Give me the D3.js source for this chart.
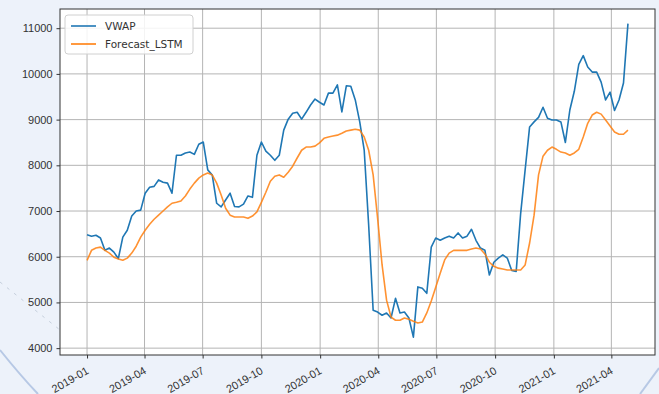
<!DOCTYPE html>
<html>
<head>
<meta charset="utf-8">
<script src="https://cdn.jsdelivr.net/npm/d3@7"></script>
<style>
  body { margin: 0; background: #edf2fa; }
  svg { display: block; font-family: "DejaVu Sans", sans-serif; }
</style>
</head>
<body>
<div id="chart"></div>
<script>
var width = 659, height = 394;
var margin = { top: 9, right: 4, bottom: 39, left: 60 };

// weekly observations, starting 2019-01-01
var startDate = "2019-01-01";
var vwap = [
  6480, 6450, 6470, 6410, 6140, 6190, 6100, 5960, 6430, 6580,
  6890, 7000, 7020, 7390, 7520, 7540, 7680, 7630, 7610, 7390,
  8220, 8220, 8270, 8290, 8240, 8460, 8510, 7900, 7790, 7170,
  7090, 7240, 7390, 7100, 7090, 7150, 7330, 7300, 8220, 8510,
  8310, 8220, 8110, 8220, 8770, 9010, 9140, 9160, 9010, 9160,
  9320, 9450, 9380, 9320, 9580, 9580, 9760, 9170, 9740, 9730,
  9430, 8950, 8330, 6690, 4830, 4790, 4720, 4770, 4660, 5090,
  4770, 4790, 4660, 4240, 5340, 5310, 5200, 6210, 6410, 6360,
  6410, 6450, 6410, 6520, 6410, 6450, 6600, 6360, 6190, 6140,
  5600, 5880, 5970, 6040, 5970, 5700, 5680, 6950, 7900, 8840,
  8950, 9050, 9270, 9030, 8990, 8990, 8950, 8500, 9210, 9620,
  10210, 10400, 10150, 10040, 10040, 9820, 9430, 9600, 9200, 9430,
  9800, 11100
];
var forecast = [
  5920, 6140, 6190, 6210, 6140, 6080, 5990, 5950, 5925, 5970,
  6080, 6230, 6430, 6580, 6710, 6820, 6910, 7000, 7090, 7170,
  7190, 7220, 7330, 7480, 7610, 7720, 7790, 7830, 7790, 7610,
  7350, 7060, 6910, 6870, 6870, 6870, 6840, 6890, 6980, 7190,
  7410, 7650, 7760, 7790, 7740, 7850, 7980, 8160, 8330, 8400,
  8400, 8420, 8490, 8590, 8620, 8640, 8660, 8700, 8750, 8770,
  8790, 8770, 8620, 8330, 7790, 6840, 5820, 5050, 4680, 4610,
  4610, 4660, 4630, 4590, 4550, 4570, 4770, 5030, 5330, 5640,
  5930, 6080, 6140, 6140, 6140, 6140, 6170, 6190, 6170, 6060,
  5880, 5790, 5750, 5730, 5710, 5710, 5710, 5710, 5820, 6300,
  6910, 7790, 8200, 8330, 8400, 8350, 8290, 8270, 8220, 8270,
  8350, 8620, 8920, 9100, 9160, 9120, 8990, 8860, 8730, 8680,
  8680, 8770
];
var yTicks = [4000, 5000, 6000, 7000, 8000, 9000, 10000, 11000];
var seriesNames = ["VWAP", "Forecast_LSTM"];
var colors = ["#1f77b4", "#ff7f0e"];

var parse = d3.timeParse("%Y-%m-%d");
var dates = vwap.map((d, i) => d3.timeDay.offset(parse(startDate), 7 * i));

var svg = d3.select("#chart").append("svg")
    .attr("width", width)
    .attr("height", height);

// faint slide decoration behind the figure
svg.append("path")
    .attr("d", "M0,350 Q20,375 38,394")
    .attr("fill", "none")
    .attr("stroke", "#9fb6dc")
    .attr("stroke-width", 2)
    .attr("opacity", 0.7);
svg.append("path")
    .attr("d", "M640,394 L659,368")
    .attr("fill", "none")
    .attr("stroke", "#9fb6dc")
    .attr("stroke-width", 2)
    .attr("opacity", 0.7);
svg.append("path")
    .attr("d", "M0,282 L60,330")
    .attr("fill", "none")
    .attr("stroke", "#c5cfdc")
    .attr("stroke-dasharray", "3,6");

var innerW = width - margin.left - margin.right;
var innerH = height - margin.top - margin.bottom;

var ext = d3.extent(dates);
var pad = (ext[1] - ext[0]) * 0.05;
var x = d3.scaleTime()
    .domain([new Date(+ext[0] - pad), new Date(+ext[1] + pad)])
    .range([0, innerW]);
var y = d3.scaleLinear()
    .domain([3850, 11420])
    .range([innerH, 0]);

var g = svg.append("g")
    .attr("transform", `translate(${margin.left},${margin.top})`);

g.append("rect")
    .attr("width", innerW)
    .attr("height", innerH)
    .attr("fill", "#fff");

var xTicks = d3.timeMonth.every(3).range(new Date(2019, 0, 1), new Date(2021, 4, 1));

// grid
g.append("g")
    .selectAll("line")
    .data(xTicks)
    .join("line")
    .attr("x1", d => x(d)).attr("x2", d => x(d))
    .attr("y1", 0).attr("y2", innerH)
    .attr("stroke", "#b4b4b4").attr("stroke-width", 1);
g.append("g")
    .selectAll("line")
    .data(yTicks)
    .join("line")
    .attr("x1", 0).attr("x2", innerW)
    .attr("y1", d => y(d)).attr("y2", d => y(d))
    .attr("stroke", "#b4b4b4").attr("stroke-width", 1);

var line = d3.line()
    .x((d, i) => x(dates[i]))
    .y(d => y(d));

[vwap, forecast].forEach((s, i) => {
  g.append("path")
    .datum(s)
    .attr("fill", "none")
    .attr("stroke", colors[i])
    .attr("stroke-width", 1.6)
    .attr("stroke-linejoin", "round")
    .attr("opacity", i == 1 ? 0.85 : 1)
    .attr("d", line);
});

// frame
g.append("rect")
    .attr("width", innerW)
    .attr("height", innerH)
    .attr("fill", "none")
    .attr("stroke", "#333")
    .attr("stroke-width", 1);

var yAxis = g.append("g")
    .call(d3.axisLeft(y).tickValues(yTicks).tickSize(3.5).tickPadding(4).tickFormat(d3.format("d")));
yAxis.select(".domain").remove();
yAxis.selectAll("line").attr("stroke", "#333");
yAxis.selectAll("text").attr("fill", "#333").style("font-size", "11px");

var xAxis = g.append("g")
    .attr("transform", `translate(0,${innerH})`)
    .call(d3.axisBottom(x).tickValues(xTicks).tickSize(3.5).tickFormat(d3.timeFormat("%Y-%m")));
xAxis.select(".domain").remove();
xAxis.selectAll("line").attr("stroke", "#333");
xAxis.selectAll("text")
    .attr("fill", "#333")
    .style("font-size", "11px")
    .attr("text-anchor", "end")
    .attr("x", 0).attr("y", 0).attr("dy", 0)
    .attr("transform", "translate(2,18) rotate(-30)");

// legend
var legend = g.append("g").attr("transform", "translate(5,6)");
legend.append("rect")
    .attr("width", 128)
    .attr("height", 39)
    .attr("rx", 3)
    .attr("fill", "#fff")
    .attr("fill-opacity", 0.85)
    .attr("stroke", "#d0d0d0");
seriesNames.forEach((n, i) => {
  var row = legend.append("g").attr("transform", `translate(6,${11 + i * 18})`);
  row.append("line")
    .attr("x1", 0).attr("x2", 25)
    .attr("stroke", colors[i])
    .attr("stroke-width", 1.6);
  row.append("text")
    .attr("x", 34)
    .attr("dy", "0.35em")
    .attr("fill", "#333")
    .style("font-size", "10.5px")
    .text(n);
});
</script>
</body>
</html>
